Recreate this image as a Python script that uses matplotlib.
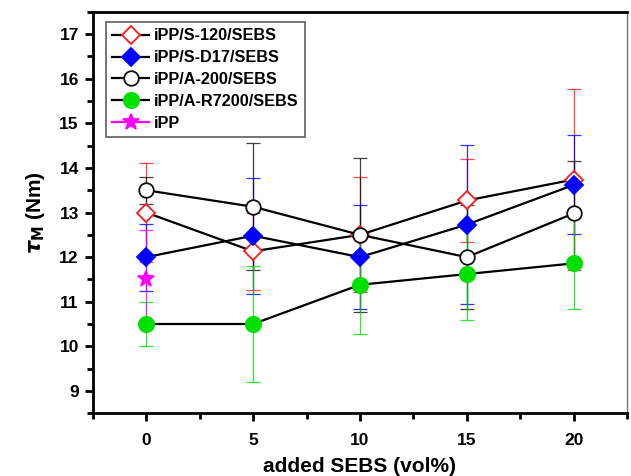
import matplotlib
matplotlib.use("Agg")
import matplotlib.pyplot as plt
from matplotlib.ticker import MultipleLocator

plt.rcParams["font.family"] = ["Liberation Sans", "DejaVu Sans"]
plt.rcParams["font.weight"] = "bold"
plt.rcParams["mathtext.default"] = "bf"

# added SEBS content (vol%)
sebs = [0, 5, 10, 15, 20]

s120 = [13.0, 12.13, 12.5, 13.27, 13.74]
s120_err = [1.1, 0.86, 1.29, 0.94, 2.02]

sd17 = [12.0, 12.48, 12.0, 12.73, 13.62]
sd17_err = [0.75, 1.3, 1.16, 1.78, 1.11]

a200 = [13.5, 13.13, 12.5, 12.0, 12.98]
a200_err = [0.3, 1.43, 1.72, 1.16, 1.17]

ar7200 = [10.5, 10.5, 11.38, 11.62, 11.86]
ar7200_err = [0.5, 1.29, 1.11, 1.03, 1.02]

ipp_x = [0]
ipp = [11.5]
ipp_err = [1.1]

fig = plt.figure(figsize=(6.31, 4.76), dpi=100)
ax = fig.add_axes([0.147, 0.132, 0.847, 0.843])

series = [
    (sebs, s120, s120_err, "iPP/S-120/SEBS", "#ff1a1a", "D", "white", 9.5),
    (sebs, sd17, sd17_err, "iPP/S-D17/SEBS", "#0000ff", "D", "#0000ff", 9.5),
    (sebs, a200, a200_err, "iPP/A-200/SEBS", "#111111", "o", "white", 10.5),
    (sebs, ar7200, ar7200_err, "iPP/A-R7200/SEBS", "#00e000", "o", "#00e000", 11),
    (ipp_x, ipp, ipp_err, "iPP", "#ff00ff", "*", "#ff00ff", 12),
]

for x, y, e, label, col, mk, fc, ms in series:
    ax.errorbar(x, y, yerr=e, fmt="none", ecolor=col, elinewidth=0.9,
                capsize=4.8, capthick=0.9, alpha=0.8, zorder=2)
    line_col = col if label == "iPP" else "black"
    ax.plot(x, y, color=line_col, lw=1.6, marker=mk, markersize=ms,
            markerfacecolor=fc, markeredgecolor=col, markeredgewidth=1.3,
            label=label, zorder=3)

ax.set_xlim(-2.5, 22.5)
ax.set_ylim(8.5, 17.5)
ax.xaxis.set_major_locator(MultipleLocator(5))
ax.xaxis.set_minor_locator(MultipleLocator(2.5))
ax.yaxis.set_major_locator(MultipleLocator(1))
ax.yaxis.set_minor_locator(MultipleLocator(0.5))
ax.tick_params(which="major", length=6, width=2, labelsize=12.5)
ax.tick_params(which="minor", length=4, width=2)
ax.tick_params(axis="x", pad=8)
ax.tick_params(axis="y", pad=4)

for side in ("left", "bottom", "top"):
    ax.spines[side].set_linewidth(2)
ax.spines["right"].set_linewidth(1)
ax.spines["right"].set_color("#777777")

ax.set_xlabel("added SEBS (vol%)", fontsize=15, fontweight="bold", labelpad=7)
ax.set_ylabel(r"$\mathit{\tau}_\mathbf{M}$ (Nm)", fontsize=15, fontweight="bold", labelpad=9)

leg = ax.legend(loc="upper left", bbox_to_anchor=(0.024, 0.975), fontsize=11.7,
                frameon=True, fancybox=False, edgecolor="#333333",
                handlelength=2.3, handletextpad=0.3, labelspacing=0.42,
                borderpad=0.4, borderaxespad=0)
leg.get_frame().set_linewidth(1.2)

fig.savefig("out.png", dpi=100)
